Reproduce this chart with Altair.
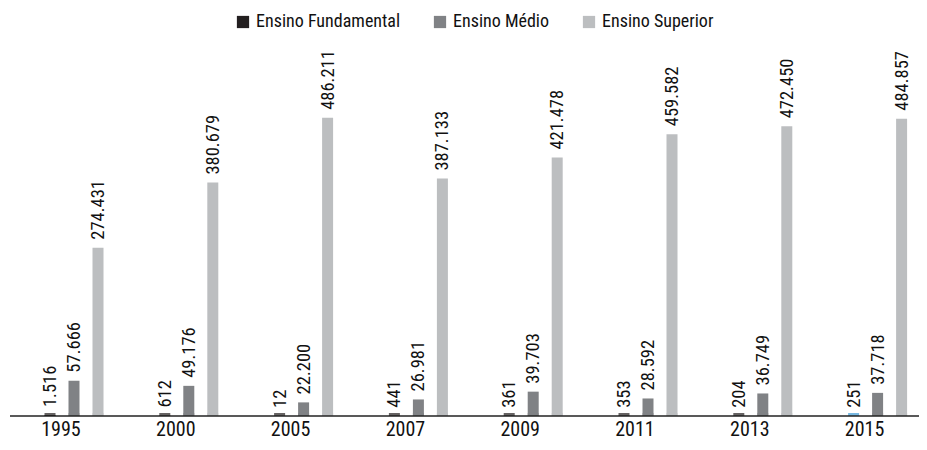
import altair as alt
import pandas as pd

years = ["1995", "2000", "2005", "2007", "2009", "2011", "2013", "2015"]
series = ["Ensino Fundamental", "Ensino Médio", "Ensino Superior"]
fundamental = [1516, 612, 12, 441, 361, 353, 204, 251]
medio = [57666, 49176, 22200, 26981, 39703, 28592, 36749, 37718]
superior = [274431, 380679, 486211, 387133, 421478, 459582, 472450, 484857]
colors = ["#231f20", "#808285", "#bcbec0"]
highlight_color = "#3d9ad6"

rows = []
for vals, s in zip([fundamental, medio, superior], series):
    for y, v in zip(years, vals):
        rows.append({"year": y, "series": s, "value": v})
df = pd.DataFrame(rows)

FONT = "Liberation Sans Narrow, Arial Narrow, Roboto Condensed, Liberation Sans"
W, H = 909, 371
YMAX = 605000

x = alt.X("year:N", sort=years,
          scale=alt.Scale(range=[-6.4, 912], paddingInner=0, paddingOuter=0),
          axis=alt.Axis(title=None, domain=False, ticks=False, labelAngle=0,
                        labelFont=FONT, labelFontSize=20, labelColor="#111",
                        labelPadding=3))
xo = alt.XOffset("series:N", sort=series,
                 scale=alt.Scale(range=[34.4, 106.4], paddingInner=0.5417, paddingOuter=0.2708))
y = alt.Y("value:Q", scale=alt.Scale(domain=[0, YMAX], nice=False, zero=True),
          axis=alt.Axis(title=None, labels=False, ticks=False, grid=False,
                        domain=True, domainColor="#222", domainWidth=1.5))

hl = "datum.year == '2015' && datum.series == 'Ensino Fundamental'"
color = alt.condition(
    hl,
    alt.value(highlight_color),
    alt.Color("series:N", scale=alt.Scale(domain=series, range=colors),
              legend=alt.Legend(title=None, orient="none", direction="horizontal",
                                legendX=224, legendY=-32,
                                symbolType="square", symbolSize=150,
                                symbolStrokeWidth=0, labelFont=FONT,
                                labelFontSize=18, labelColor="#111",
                                columnPadding=30, labelOffset=4))
)

base = alt.Chart(df)

bars = base.mark_bar().encode(x=x, xOffset=xo, y=y, color=color)

# minimum visible bar height (as in the reference, tiny values still show a stub)
stubs = base.transform_calculate(zero="0").mark_tick(thickness=3, size=11, yOffset=-1.5).encode(
    x=x, xOffset=xo,
    y=alt.Y("zero:Q", scale=alt.Scale(domain=[0, YMAX], nice=False), axis=None),
    color=alt.condition(hl, alt.value(highlight_color),
                        alt.Color("series:N", scale=alt.Scale(domain=series, range=colors), legend=None)),
)

labels = base.transform_calculate(
    label="replace(format(datum.value, ','), ',', '.')"
).mark_text(angle=270, align="left", baseline="middle", dx=8,
            font=FONT, fontSize=18.5, color="#111").encode(
    x=x, xOffset=xo, y=y, text="label:N"
)

baseline = alt.Chart(pd.DataFrame({"v": [0]})).mark_rule(color="#222", strokeWidth=1.5).encode(
    y=alt.Y("v:Q", scale=alt.Scale(domain=[0, YMAX], nice=False)),
    x=alt.value(0), x2=alt.value(W)
)

chart = alt.layer(bars, stubs, labels, baseline).properties(
    width=W, height=H,
    autosize=alt.AutoSizeParams(type="none"),
    padding={"left": 2, "top": 37, "right": 0, "bottom": 26},
).configure_view(stroke=None)

chart.save("out.html", embed_options={"renderer": "svg", "actions": False})
